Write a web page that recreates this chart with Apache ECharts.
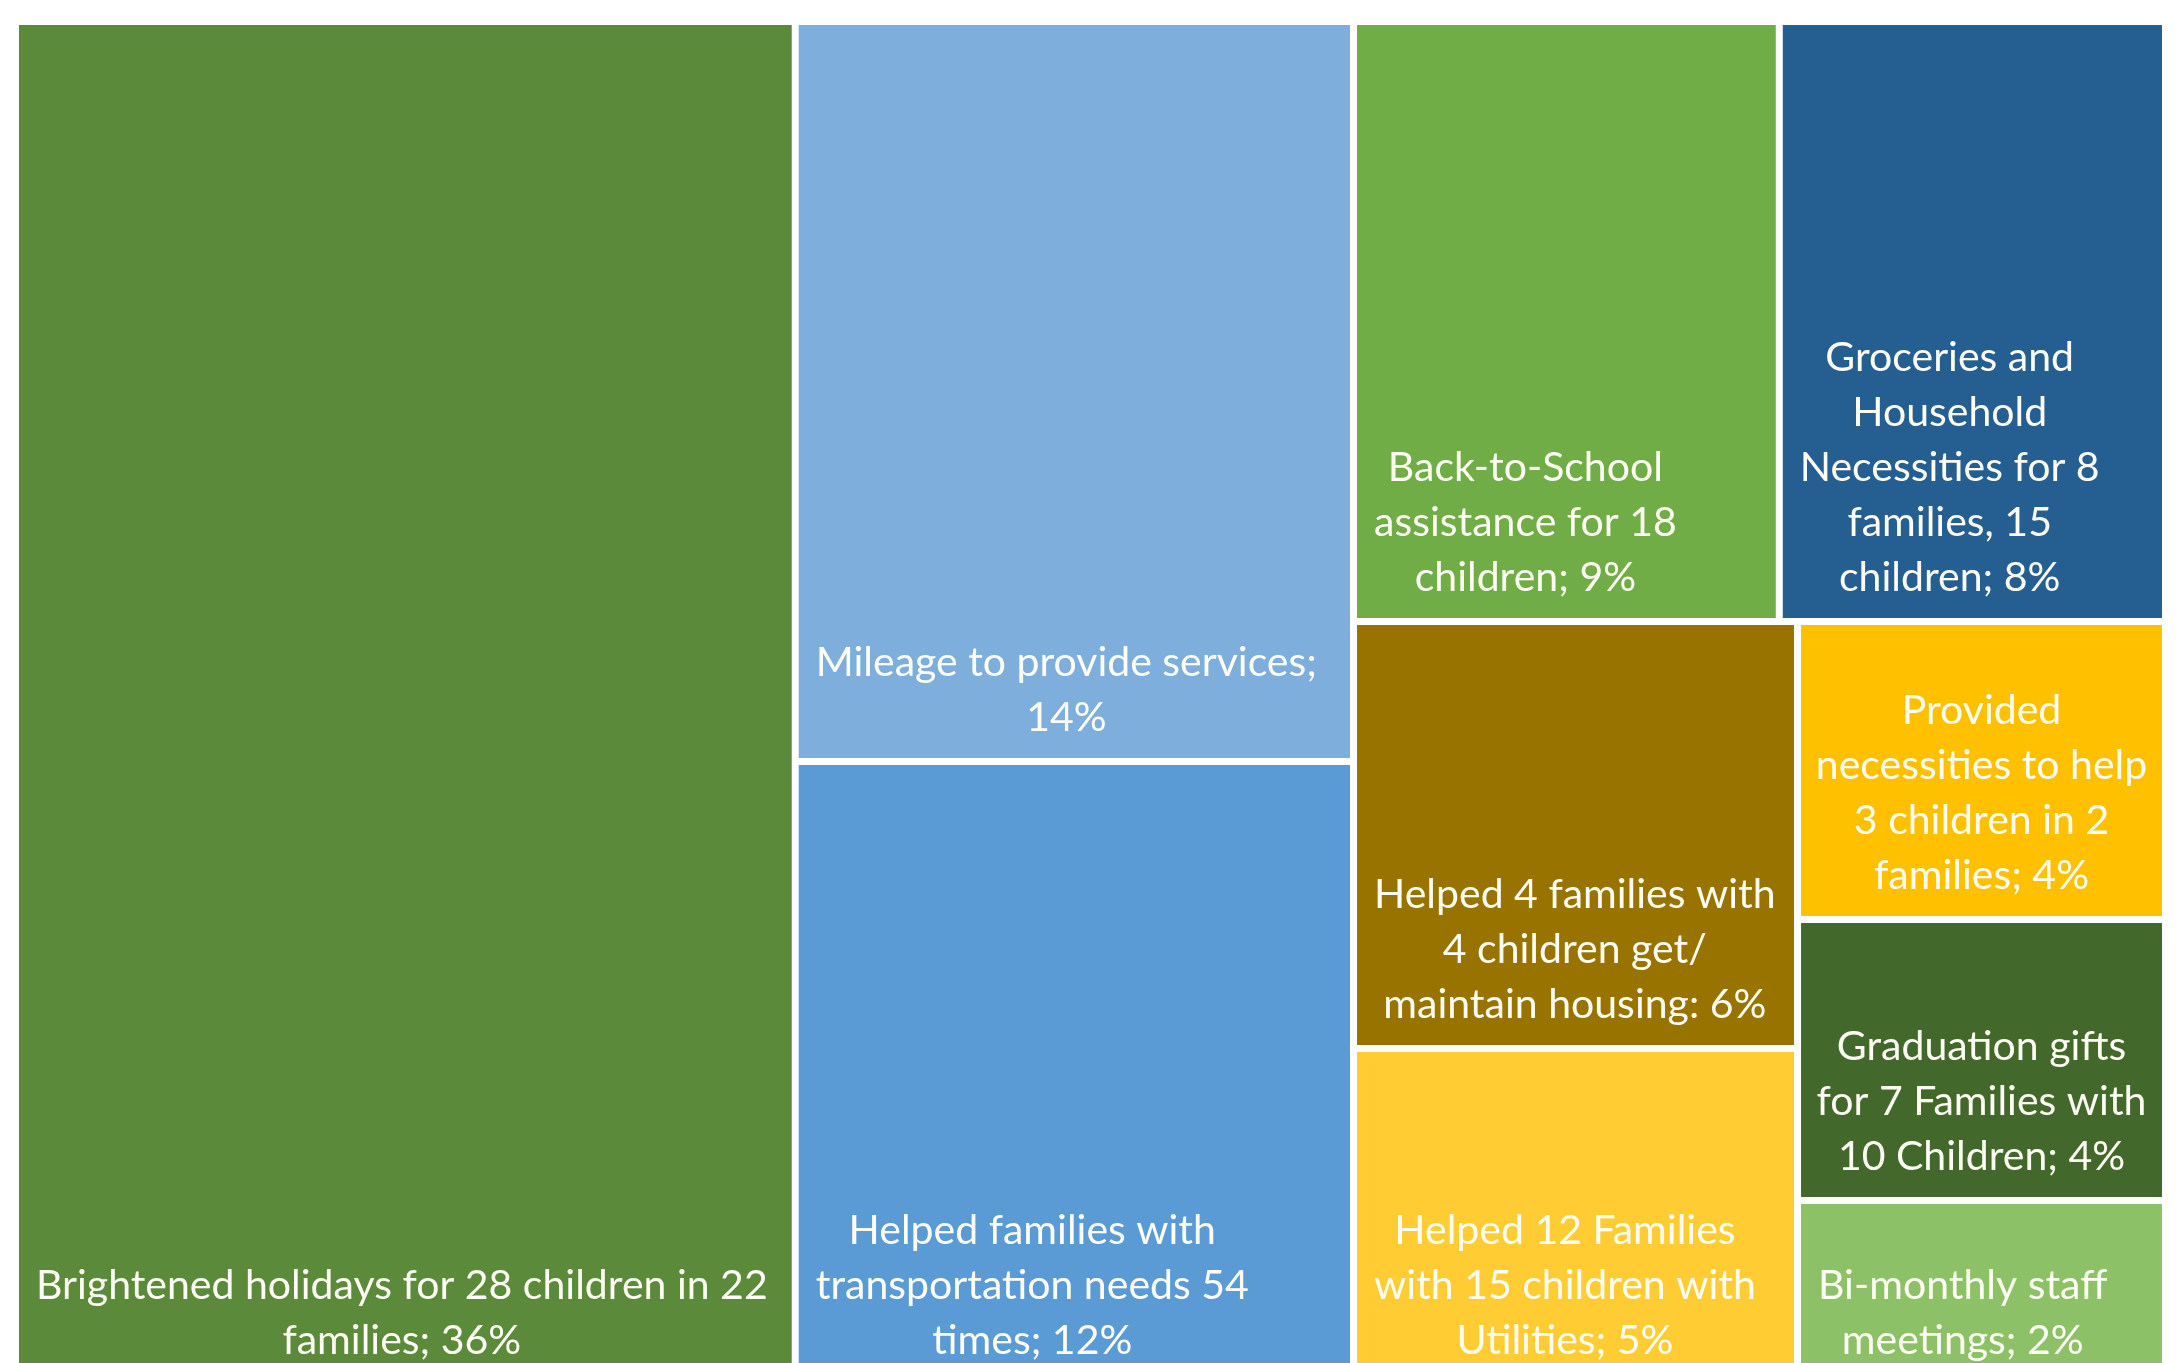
<!DOCTYPE html>
<html>
<head>
<meta charset="utf-8">
<style>
html,body{margin:0;padding:0;background:#fff;}
#chart{width:2181px;height:1363px;}
</style>
<script src="https://cdn.jsdelivr.net/npm/echarts@6/dist/echarts.min.js"></script>
</head>
<body>
<div id="chart"></div>
<script>
// Labels as printed in each tile
const categories = [
  "Brightened holidays for 28 children in 22\nfamilies; 36%",
  "Mileage to provide services;\n14%",
  "Helped families with\ntransportation needs 54\ntimes; 12%",
  "Back-to-School\nassistance for 18\nchildren; 9%",
  "Groceries and\nHousehold\nNecessities for 8\nfamilies, 15\nchildren; 8%",
  "Helped 4 families with\n4 children get/\nmaintain housing: 6%",
  "Helped 12 Families\nwith 15 children with\nUtilities; 5%",
  "Provided\nnecessities to help\n3 children in 2\nfamilies; 4%",
  "Graduation gifts\nfor 7 Families with\n10 Children; 4%",
  "Bi-monthly staff\nmeetings; 2%"
];
// Shares (percent) estimated from tile areas
const values = [36.27, 14.1, 11.87, 8.72, 7.91, 6.47, 5.09, 3.74, 3.53, 2.31];
const palette = ["#5B8A3B", "#7EAEDC", "#5B9BD5", "#70AD47", "#255E91",
                 "#997300", "#FFCD33", "#FFC000", "#43682B", "#8CC168"];

const FONT_SIZE = 41;
const FONT_FAMILY = "Lato, 'Open Sans', sans-serif";
const PAD = 17;

const measureCtx = document.createElement('canvas').getContext('2d');
measureCtx.font = FONT_SIZE + 'px ' + FONT_FAMILY;
function blockWidth(text) {
  return Math.max.apply(null, String(text).split('\n').map(s => measureCtx.measureText(s).width));
}

const chart = echarts.init(document.getElementById('chart'), null, {renderer: 'canvas'});

function buildData(tileWidths) {
  return categories.map((name, i) => {
    const item = {name: name, value: values[i], itemStyle: {color: palette[i]}};
    if (tileWidths && tileWidths[name] != null) {
      // Excel-style label block: anchored at the left padding, lines centred within the block
      const extra = Math.max(0, tileWidths[name] - 2 * PAD - blockWidth(name));
      item.label = {padding: [0, PAD + extra, 13, PAD]};
    }
    return item;
  });
}

const option = {
  backgroundColor: '#ffffff',
  animation: false,
  series: [{
    type: 'treemap',
    left: 19,
    right: 19,
    top: 25,
    height: 1356,
    roam: false,
    nodeClick: false,
    squareRatio: 1,
    breadcrumb: {show: false},
    label: {
      show: true,
      position: 'insideBottom',
      color: '#fdfdf3',
      fontFamily: FONT_FAMILY,
      fontSize: FONT_SIZE,
      lineHeight: 55,
      align: 'center',
      padding: [0, PAD, 13, PAD],
      overflow: 'none'
    },
    levels: [
      {itemStyle: {gapWidth: 7, borderWidth: 0}},
      {itemStyle: {borderWidth: 0}}
    ],
    data: buildData(null)
  }]
};
chart.setOption(option);

// Read the tile widths computed by ECharts' own treemap layout
try {
  const seriesModel = chart.getModel().getSeriesByIndex(0);
  const root = seriesModel.getData().tree.root;
  const tileWidths = {};
  root.children.forEach(n => { tileWidths[n.name] = n.getLayout().width; });
  chart.setOption({series: [{data: buildData(tileWidths)}]});
} catch (e) {
  console.log(e);
}
</script>
</body>
</html>
